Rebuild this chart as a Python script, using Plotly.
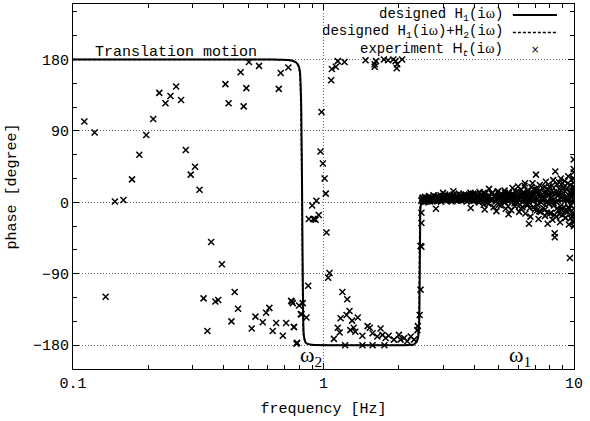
import plotly.graph_objects as go

# Designed H1 phase curve
freq_h1 = [0.1, 0.3, 0.6, 0.72, 0.76, 0.79, 0.805, 0.815, 0.822, 0.828, 0.835, 0.85, 0.9, 1.2,
           2.0, 2.3, 2.38, 2.41, 2.43, 2.45, 2.5, 2.6, 3.0, 5.0, 10.0]
phase_h1 = [180, 180, 180, 179.5, 178, 174, 165, 120, 0, -120, -168, -177, -179.5, -180,
            -180, -179, -172, -150, -40, -3, 0, 0.5, 1, 1.5, 2]

# Designed H1+H2 phase curve
freq_h12 = [0.1, 0.3, 0.6, 0.72, 0.76, 0.79, 0.803, 0.812, 0.82, 0.826, 0.833, 0.85, 0.9, 1.2,
            2.0, 2.3, 2.37, 2.40, 2.42, 2.44, 2.5, 2.6, 3.0, 5.0, 10.0]
phase_h12 = [180, 180, 180, 179.5, 178, 173, 164, 120, 0, -120, -168, -177, -179.5, -180,
             -180, -179, -172, -150, -40, -3, 0, 0.5, 1, 1.5, 2]

# Experiment H_t points
freq_exp = [
    0.111, 0.122, 0.135, 0.147, 0.159, 0.172, 0.184, 0.196, 0.209, 0.221, 0.234, 0.245, 0.258,
    0.270, 0.282, 0.295, 0.307, 0.320, 0.332, 0.344, 0.356, 0.370, 0.380, 0.393, 0.406, 0.418,
    0.429, 0.442, 0.456, 0.467, 0.480, 0.492, 0.504, 0.517, 0.535, 0.553, 0.572, 0.590, 0.608,
    0.627, 0.647, 0.663, 0.675, 0.688, 0.709, 0.724, 0.743, 0.747, 0.754, 0.761, 0.763, 0.780,
    0.785, 0.799, 0.811, 0.817, 0.826, 0.855, 0.869, 0.874, 0.901, 0.91, 0.92, 0.93, 0.937,
    0.957, 0.973, 0.982, 0.994, 1.01, 1.021, 1.028, 1.044, 1.057, 1.073, 1.080, 1.10, 1.12,
    1.14, 1.14, 1.16, 1.17, 1.19, 1.213, 1.22, 1.236, 1.244, 1.27, 1.28, 1.30, 1.32, 1.34,
    1.37, 1.43, 1.43, 1.472, 1.50, 1.53, 1.57, 1.57, 1.60, 1.60, 1.62, 1.64, 1.69, 1.72,
    1.742, 1.75, 1.77, 1.81, 1.82, 1.90, 1.91, 1.94, 1.96, 1.97, 2.00, 2.03, 2.06, 2.10,
    2.16, 2.23, 2.30, 2.37, 2.38, 2.42, 2.44, 2.44, 2.46, 2.46, 2.46,
    2.46, 2.48, 2.50, 2.52, 2.55, 2.57, 2.60, 2.63, 2.66, 2.70, 2.73, 2.76, 2.80, 2.81, 2.84,
    2.88, 2.92, 2.95, 3.00, 3.02, 3.06, 3.10, 3.14, 3.18, 3.22, 3.26, 3.30, 3.33, 3.37, 3.42,
    3.46, 3.50, 3.55, 3.60, 3.64, 3.69, 3.74, 3.79, 3.84, 3.87, 3.90, 3.96, 4.00, 4.05, 4.10,
    4.15, 4.20, 4.25, 4.30, 4.36, 4.40, 4.42, 4.47, 4.52, 4.58, 4.60, 4.66, 4.72, 4.78, 4.84,
    4.90, 4.92, 4.98, 5.04, 5.10, 5.16, 5.22, 5.28, 5.34, 5.40, 5.48, 5.50, 5.56, 5.62, 5.68,
    5.74, 5.80, 5.86, 5.92, 5.98, 6.04, 6.10, 6.16, 6.22, 6.28, 6.34, 6.37, 6.40, 6.46, 6.52,
    6.58, 6.61, 6.64, 6.70, 6.76, 6.83, 6.86, 6.92, 6.98, 7.05, 7.10, 7.15, 7.22, 7.25, 7.30,
    7.36, 7.42, 7.48, 7.54, 7.60, 7.66, 7.72, 7.78, 7.85, 7.90, 7.96, 8.02, 8.08, 8.14, 8.20,
    8.26, 8.32, 8.37, 8.38, 8.42, 8.45, 8.50, 8.56, 8.62, 8.68, 8.74, 8.80, 8.86, 8.92, 8.98,
    9.00, 9.06, 9.12, 9.18, 9.24, 9.30, 9.36, 9.42, 9.48, 9.54, 9.60, 9.63, 9.66, 9.72, 9.78,
    9.84, 9.88, 9.92, 9.95, 9.97, 9.98, 9.99, 10.0,
    2.47, 2.53, 2.58, 2.62, 2.68, 2.74, 2.78, 2.86, 2.90, 2.98, 3.04, 3.12, 3.20, 3.28, 3.35,
    3.44, 3.52, 3.58, 3.66, 3.72, 3.80, 3.92, 4.02, 4.12, 4.22, 4.33, 4.45, 4.55, 4.68, 4.80,
    4.95, 5.07, 5.20, 5.32, 5.45, 5.60, 5.72, 5.85, 6.00, 6.13, 6.25, 6.42, 6.55, 6.72, 6.90,
    7.08, 7.20, 7.40, 7.57, 7.75, 7.93, 8.10, 8.30, 8.48, 8.65, 8.83, 9.02, 9.20, 9.40, 9.58,
    9.75, 9.90,
    2.49, 2.54, 2.59, 2.64, 2.69, 2.75, 2.82, 2.87, 2.93, 2.99, 3.05, 3.11, 3.17, 3.24, 3.31,
    3.39, 3.47, 3.54, 3.62, 3.70, 3.78, 3.86, 3.95, 4.04, 4.14, 4.24, 4.35, 4.46, 4.57, 4.70,
    4.82, 4.94, 5.06, 5.18, 5.30, 5.42, 5.55, 5.68, 5.82, 5.96, 6.10, 6.24, 6.38, 6.52, 6.66,
    6.80, 6.95, 7.12, 7.28, 7.45, 7.62, 7.80, 7.98, 8.16, 8.35, 8.54, 8.72, 8.90, 9.08, 9.26,
    9.45, 9.64, 9.82, 9.96,
    2.51, 2.56, 2.65, 2.72, 2.79, 2.85, 2.94, 3.01, 3.08, 3.16, 3.25, 3.34, 3.43, 3.53, 3.63,
    3.73, 3.83, 3.94, 4.06, 4.18, 4.31, 4.43, 4.56, 4.71, 4.86, 5.01, 5.15, 5.30, 5.46, 5.63,
    5.79, 5.97, 6.15, 6.33, 6.51, 6.69, 6.88, 7.07, 7.27, 7.47, 7.67, 7.88, 8.09, 8.31, 8.53,
    8.76, 8.99, 9.23, 9.47, 9.71, 9.94,
    9.97, 9.96, 9.99, 9.98, 10.0, 9.95, 9.99, 9.97, 9.98, 9.96,
    5.10, 5.50, 5.90, 6.30, 6.70, 7.10, 7.50, 7.90, 8.30, 8.70, 9.10, 9.50, 9.85,
]
phase_exp = [
    102, 88, -119, 1, 3, 29, 60, 85, 105, 138, 125, 134, 146,
    129, 66, 35, 45, 16, -121, -162, -50, -125, -123, -78, 149, 125,
    -150, -113, -134, 164, 121, 144, 177, -159, -144, 172, -151, -139, -133,
    -162, -152, 143, 163, -168, -152, 170, -124, -125, -127, -157, -157, -178,
    -177, -130, -141, -141, -127, -145, -105, -21, -4, -21, -21, -22, 2,
    -16, 64, 114, 49, 30, 11, -38, -95, -89, 154, 168, -172, 171,
    178, -158, -164, -146, -113, 177, -180, -142, -122, -137, -161, -149, -158, -163,
    -145, -168, -180, 179, -156, -158, -165, -180, 174, 171, 178, -169, -159, -167,
    180, -180, -171, 179, -168, 180, -173, 178, 169, 174, -167, -173, 180, -171,
    -175, -169, -173, -161, -156, -142, -110, -55, -26, -56, -13,
    2, 5, 1, 4, 6, 2, 3, 5, 1, 4, 6, 2, 5, -8, 3,
    7, 4, 1, 12, 5, 3, 8, 4, 6, 2, 9, 14, 5, 3, 7,
    4, 8, 2, 6, 10, 4, 7, 3, 9, -7, 5, 11, 2, 6, 9,
    1, 13, 4, 8, -3, -9, 11, 5, 0, 17, 7, 3, 12, -6, 9,
    -11, 2, 14, 6, -4, 10, 1, 15, -8, 7, -15, 12, 3, -10, 18,
    5, -5, 13, 0, 20, -12, 8, 16, -6, 3, 21, 24, -14, 10, -2,
    14, -27, 6, -18, 19, 24, 1, 11, -9, 35, 16, -3, -21, 8, 22,
    -12, 4, 18, -7, 12, -17, 26, 0, -27, 9, 20, -14, 5, 15, -22,
    28, -4, -39, -44, 39, 10, -18, 23, 2, -10, 17, -25, 30, 6, -16,
    24, 12, -6, 27, -20, 3, 18, -12, 33, -28, 8, -70, 22, -4, 15,
    -18, 30, -24, 10, 54, 42, -15, 5,
    3, 2, 4, 3, 5, 3, 4, 5, 6, 4, 7, 6, 5, 7, 6,
    5, 5, 7, 6, 5, 6, 7, 5, 6, 4, 7, 3, 6, 4, 7,
    5, 3, 6, 4, 2, 5, 8, 1, 4, 6, 9, 2, 5, 7, 3,
    4, 10, 0, 6, 11, -2, 7, 13, 1, 9, -5, 4, 14, 6, -8,
    12, 0,
    6, 7, 5, 8, 6, 9, 7, 8, 9, 6, 10, 8, 9, 7, 10,
    8, 11, 9, 7, 10, 8, 12, 9, 11, 8, 10, 12, 7, 9, 11,
    8, 13, 6, 10, 12, 4, 9, 11, 7, 14, -3, 12, 8, 15, -7,
    11, 17, -10, 14, 6, 19, -13, 9, 21, -16, 13, 25, -9, 18, -19,
    24, 12, -14, 20,
    0, 1, 2, 1, 3, 2, 1, 3, 2, 4, 1, 3, 2, 4, 3,
    1, 4, 2, 3, 0, 5, 2, -2, 4, 1, -3, 6, 0, -5, 3,
    -1, 7, -8, 2, -4, 9, -6, 3, -11, 5, -9, 1, -13, 4, -8,
    -15, 10, -11, 2, -20, 15,
    30, 20, -20, -25, 15, 25, -8, 38, -30, 10,
    7, 9, 5, 11, 4, 13, 2, 16, -1, 12, 19, -6, 8,
]

x_tickvals = [0.1, 1, 10]
x_ticktext = ["0.1", "1", "10"]
x_minorvals = [0.2, 0.3, 0.4, 0.5, 0.6, 0.7, 0.8, 0.9, 2, 3, 4, 5, 6, 7, 8, 9]
y_tickvals = [-180, -90, 0, 90, 180]
y_ticktext = ["−180", "−90", "0", "90", "180"]

MONO = "Liberation Mono"
fig = go.Figure()

fig.add_trace(go.Scatter(x=freq_exp, y=phase_exp, mode="markers", name="experiment",
                         marker=dict(symbol="x-thin", size=6, color="black",
                                     line=dict(width=1.5, color="black")),
                         showlegend=False, cliponaxis=True))
fig.add_trace(go.Scatter(x=freq_h1, y=phase_h1, mode="lines", name="designed H1",
                         line=dict(color="black", width=2, shape="spline", smoothing=0.6),
                         showlegend=False))
fig.add_trace(go.Scatter(x=freq_h12, y=phase_h12, mode="lines", name="designed H1+H2",
                         line=dict(color="black", width=1.5, dash="3px,2px",
                                   shape="spline", smoothing=0.6),
                         showlegend=False))

axis_common = dict(showline=True, linecolor="black", linewidth=1, mirror="ticks",
                   ticks="inside", ticklen=6, tickcolor="black",
                   gridcolor="#666", griddash="1px,2px", gridwidth=1, zeroline=False,
                   tickfont=dict(family=MONO, size=15, color="black"))

fig.update_xaxes(type="log", range=[-1, 1], tickvals=x_tickvals, ticktext=x_ticktext,
                 title=dict(text="frequency [Hz]", font=dict(family=MONO, size=15, color="black"),
                            standoff=10),
                 minor=dict(ticks="inside", ticklen=4, tickcolor="black", showgrid=False,
                            tickvals=x_minorvals),
                 **axis_common)
fig.update_yaxes(range=[-210, 250], tickvals=y_tickvals, ticktext=y_ticktext,
                 title=dict(text="phase [degree]", font=dict(family=MONO, size=15, color="black"),
                            standoff=12),
                 minor=dict(ticks="inside", ticklen=4, tickcolor="black", dtick=30,
                            tick0=0, showgrid=False),
                 **axis_common)

# Legend (text right, sample left like gnuplot)
leg_font = dict(family=MONO, size=14, color="black")
W = "<span style='font-family:Liberation Serif'>ω</span>"
legend_rows = [
    (0.970, "designed H<sub>1</sub>(i" + W + ")"),
    (0.922, "designed H<sub>1</sub>(i" + W + ")+H<sub>2</sub>(i" + W + ")"),
    (0.874, "experiment <span style='font-family:Liberation Sans'>H</span><sub><i>t</i></sub>(i" + W + ")"),
]
annotations = []
for ypos, txt in legend_rows:
    annotations.append(dict(x=0.862, y=ypos, xref="paper", yref="paper", text=txt,
                            showarrow=False, xanchor="right", yanchor="middle", font=leg_font))
shapes = [
    dict(type="line", xref="paper", yref="paper", x0=0.878, x1=0.966, y0=0.970, y1=0.970,
         line=dict(color="black", width=2)),
    dict(type="line", xref="paper", yref="paper", x0=0.878, x1=0.966, y0=0.922, y1=0.922,
         line=dict(color="black", width=1.5, dash="3px,2px")),
]
annotations.append(dict(x=0.922, y=0.874, xref="paper", yref="paper", text="×",
                        showarrow=False, xanchor="center", yanchor="middle",
                        font=dict(family="DejaVu Sans", size=10, color="black")))

annotations.append(dict(x=0.040, y=0.868, xref="paper", yref="paper", text="Translation motion",
                        showarrow=False, xanchor="left", yanchor="middle",
                        font=dict(family=MONO, size=15, color="black")))
annotations.append(dict(x=0.475, y=0.036, xref="paper", yref="paper", text="ω<sub>2</sub>",
                        showarrow=False, xanchor="center", yanchor="middle",
                        font=dict(family="Liberation Serif", size=22, color="black")))
annotations.append(dict(x=0.893, y=0.036, xref="paper", yref="paper", text="ω<sub>1</sub>",
                        showarrow=False, xanchor="center", yanchor="middle",
                        font=dict(family="Liberation Serif", size=22, color="black")))

fig.update_layout(width=590, height=421, margin=dict(l=73, r=16, t=4, b=52),
                  plot_bgcolor="white", paper_bgcolor="white", showlegend=False,
                  annotations=annotations, shapes=shapes)

fig.write_html("out.html")
